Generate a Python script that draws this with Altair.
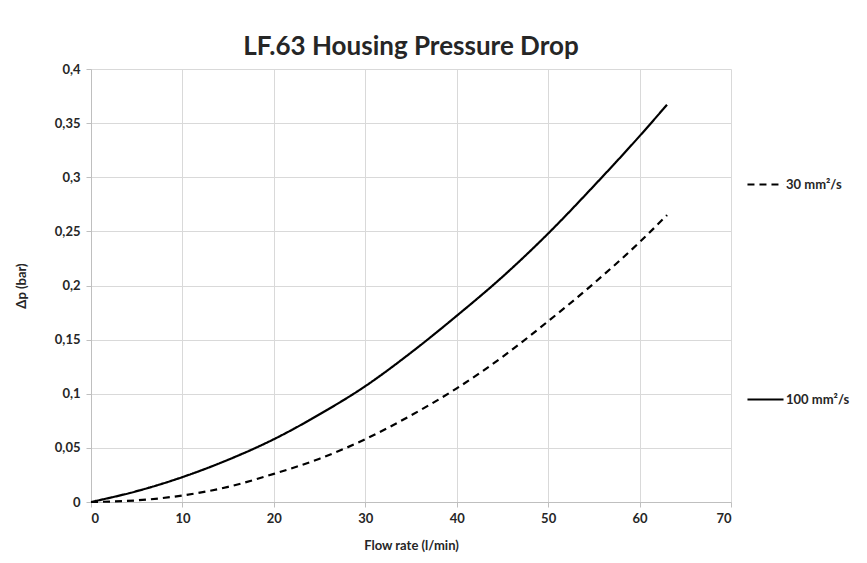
import altair as alt
import pandas as pd

FLOW = [0, 5, 10, 15, 20, 25, 30, 35, 40, 45, 50, 55, 60, 63]
DP_100 = [0, 0.010, 0.023, 0.039, 0.058, 0.081, 0.107, 0.138, 0.172, 0.208, 0.248, 0.292, 0.338, 0.367]
DP_30 = [0, 0.0015, 0.006, 0.014, 0.026, 0.040, 0.058, 0.080, 0.105, 0.134, 0.167, 0.202, 0.240, 0.265]
SERIES = ["30 mm²/s", "100 mm²/s"]
X_TICKS = [0, 10, 20, 30, 40, 50, 60, 70]
Y_TICKS = [0, 0.05, 0.1, 0.15, 0.2, 0.25, 0.3, 0.35, 0.4]

rows = []
for f, v in zip(FLOW, DP_30):
    rows.append({"flow": f, "dp": v, "series": SERIES[0]})
for f, v in zip(FLOW, DP_100):
    rows.append({"flow": f, "dp": v, "series": SERIES[1]})
df = pd.DataFrame(rows)

FONT = "Lato"

chart = alt.Chart(df).mark_line(strokeWidth=2.2, color="black", interpolate="monotone").encode(
    x=alt.X("flow:Q", title="Flow rate (l/min)",
            scale=alt.Scale(domain=[0, 70], nice=False),
            axis=alt.Axis(values=X_TICKS, labelPadding=5, titlePadding=14)),
    y=alt.Y("dp:Q", title="Δp (bar)",
            scale=alt.Scale(domain=[0, 0.4], nice=False),
            axis=alt.Axis(values=Y_TICKS, format=".2~f",
                          labelExpr="replace(datum.label, '.', ',')",
                          labelPadding=6, titlePadding=26)),
    strokeDash=alt.StrokeDash("series:N", title=None,
                              scale=alt.Scale(domain=SERIES, range=[[7, 5], [1, 0]]),
                              legend=alt.Legend(orient="none", legendX=655, legendY=96,
                                                rowPadding=188, symbolType="stroke",
                                                symbolSize=1300, symbolStrokeColor="black",
                                                symbolStrokeWidth=2, labelOffset=1)),
    detail="series:N",
).properties(
    width=640, height=433,
    title=alt.Title("LF.63 Housing Pressure Drop", fontSize=26, font=FONT,
                    fontWeight="bold", color="#262626", offset=3, anchor="middle"),
    padding={"left": 7, "top": 26, "right": 5, "bottom": 5},
).configure_view(stroke=None).configure_axis(
    labelFont=FONT, titleFont=FONT, labelFontSize=13, titleFontSize=13,
    labelFontWeight="bold", titleFontWeight="bold",
    labelColor="#262626", titleColor="#262626",
    gridColor="#d9d9d9", gridWidth=1, domainColor="#bfbfbf",
    tickColor="#bfbfbf", tickSize=5,
).configure_legend(
    labelFont=FONT, labelFontSize=13, labelFontWeight="bold", labelColor="#262626",
)

chart.save("out.html", embed_options={"renderer": "svg", "actions": False})
